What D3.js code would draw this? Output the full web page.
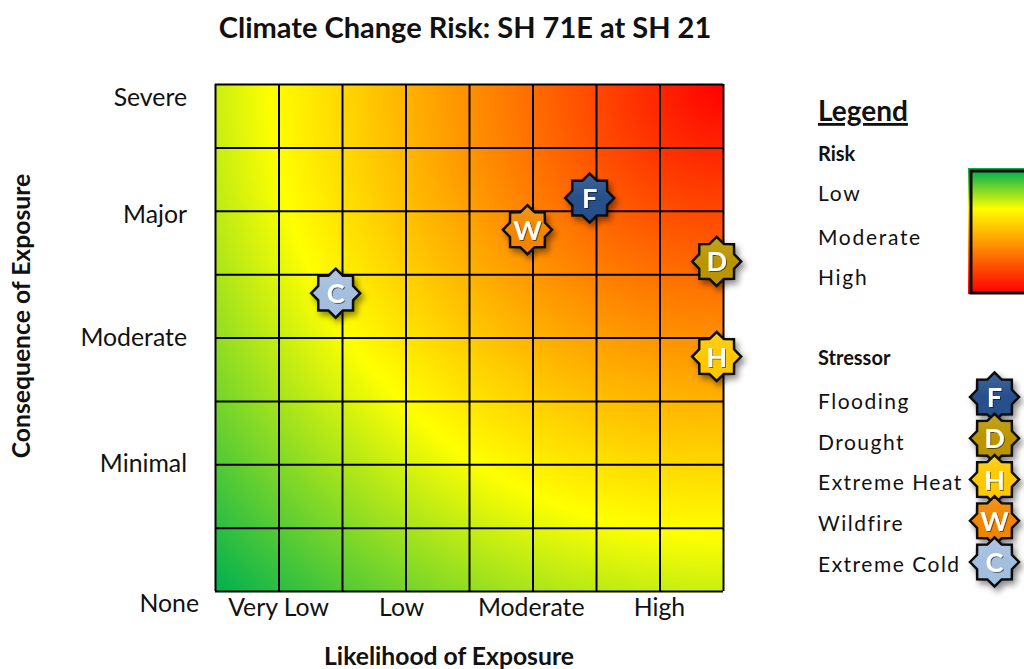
<!DOCTYPE html>
<html>
<head>
<meta charset="utf-8">
<script src="https://cdn.jsdelivr.net/npm/d3@7"></script>
<style>
  html, body { margin: 0; background: #fff; overflow: hidden; }
  text { font-family: Lato, "Open Sans", sans-serif; fill: #111; }
</style>
</head>
<body>
<script>
var likelihoodLabels = ["Very Low", "Low", "Moderate", "High"];
var likelihoodTicks = [0.5, 1.47, 2.49, 3.5];
var consequenceLabels = ["None", "Minimal", "Moderate", "Major", "Severe"];
var consequenceTicks = [-0.1, 1, 2, 2.97, 3.89];
var gridLines = [0, 0.5, 1, 1.5, 2, 2.5, 3, 3.5, 4];

var stressorNames = ["Flooding", "Drought", "Extreme Heat", "Wildfire", "Extreme Cold"];
var stressorLetters = ["F", "D", "H", "W", "C"];
var stressorColors = ["#264f8c", "#bb9500", "#ffc800", "#f08600", "#a3bede"];
var stressorLikelihood = [2.95, 3.95, 3.95, 2.46, 0.95];
var stressorConsequence = [3.1, 2.6, 1.85, 2.85, 2.35];

var riskLabels = ["Low", "Moderate", "High"];

var margin = { top: 84, left: 215 },
    width = 508,
    height = 507;

var svg = d3.select("body")
    .append("svg")
    .attr("width", 1024)
    .attr("height", 669);

var defs = svg.append("defs");

// the plot colours fan out from the top right corner
var plotGrad = defs.append("radialGradient")
    .attr("id", "plotGrad")
    .attr("gradientUnits", "userSpaceOnUse")
    .attr("cx", width).attr("cy", 0).attr("r", 717);
plotGrad.append("stop").attr("offset", "0").attr("stop-color", "#ff0000");
plotGrad.append("stop").attr("offset", "0.63").attr("stop-color", "#ffff00");
plotGrad.append("stop").attr("offset", "1").attr("stop-color", "#00b050");

var legendGrad = defs.append("linearGradient")
    .attr("id", "legendGrad")
    .attr("x1", 0).attr("y1", 0).attr("x2", 0).attr("y2", 1);
legendGrad.append("stop").attr("offset", "0").attr("stop-color", "#00b050");
legendGrad.append("stop").attr("offset", "0.31").attr("stop-color", "#ffff00");
legendGrad.append("stop").attr("offset", "1").attr("stop-color", "#ff0000");

var shadow = defs.append("filter").attr("id", "starShadow")
    .attr("x", "-30%").attr("y", "-30%").attr("width", "170%").attr("height", "170%");
shadow.append("feDropShadow")
    .attr("dx", 3).attr("dy", 4).attr("stdDeviation", 3)
    .attr("flood-color", "#000").attr("flood-opacity", 0.45);

var textShadow = defs.append("filter").attr("id", "letterShadow")
    .attr("x", "-30%").attr("y", "-30%").attr("width", "170%").attr("height", "170%");
textShadow.append("feDropShadow")
    .attr("dx", 1).attr("dy", 1).attr("stdDeviation", 0.7)
    .attr("flood-color", "#000").attr("flood-opacity", 0.5);

var sheen = defs.append("linearGradient")
    .attr("id", "starSheen")
    .attr("x1", 0).attr("y1", 0).attr("x2", 0).attr("y2", 1);
sheen.append("stop").attr("offset", "0").attr("stop-color", "#fff").attr("stop-opacity", 0.12);
sheen.append("stop").attr("offset", "0.5").attr("stop-color", "#fff").attr("stop-opacity", 0);

var g = svg.append("g")
    .attr("transform", "translate(" + margin.left + "," + margin.top + ")");

var x = d3.scaleLinear().domain([0, 4]).range([0, width]);
var y = d3.scaleLinear().domain([0, 4]).range([height, 0]);

g.append("rect")
    .attr("width", width)
    .attr("height", height)
    .attr("fill", "url(#plotGrad)");

// Grid
g.append("g")
    .attr("class", "grid")
    .attr("transform", "translate(0," + height + ")")
    .call(d3.axisBottom(x).tickValues(gridLines).tickSize(-height).tickFormat(""));
g.append("g")
    .attr("class", "grid")
    .call(d3.axisLeft(y).tickValues(gridLines).tickSize(-width).tickFormat(""));
g.selectAll(".grid .domain").remove();
g.selectAll(".grid line")
    .attr("stroke", "#000")
    .attr("stroke-width", 2);

// Axis labels
g.selectAll(".xlab")
    .data(likelihoodLabels)
    .enter()
    .append("text")
    .attr("x", function (d, i) { return x(likelihoodTicks[i]); })
    .attr("y", height + 25)
    .attr("text-anchor", "middle")
    .attr("font-size", 24.8)
    .text(function (d) { return d; });

g.selectAll(".ylab")
    .data(consequenceLabels)
    .enter()
    .append("text")
    .attr("x", function (d) { return d == "None" ? -16 : -28; })
    .attr("y", function (d, i) { return y(consequenceTicks[i]) + 8; })
    .attr("text-anchor", "end")
    .attr("font-size", 24.8)
    .text(function (d) { return d; });

svg.append("text")
    .attr("x", 465).attr("y", 38)
    .attr("text-anchor", "middle")
    .attr("font-size", 29)
    .attr("font-weight", "bold")
    .text("Climate Change Risk: SH 71E at SH 21");

svg.append("text")
    .attr("x", 449).attr("y", 665)
    .attr("text-anchor", "middle")
    .attr("font-size", 24.7)
    .attr("font-weight", "bold")
    .text("Likelihood of Exposure");

svg.append("text")
    .attr("transform", "translate(30,316)rotate(-90)")
    .attr("text-anchor", "middle")
    .attr("font-size", 24.7)
    .attr("font-weight", "bold")
    .text("Consequence of Exposure");

// 8 pointed star
var starPoints = d3.range(16).map(function (i) {
    return [i * Math.PI / 8, i % 2 ? 0.77 : 1];
});
function starPath(r) {
    return d3.lineRadial()
        .angle(function (d) { return d[0]; })
        .radius(function (d) { return d[1] * r; })
        .curve(d3.curveLinearClosed)(starPoints);
}

function drawStar(sel, r, color, letter) {
    sel.append("path")
        .attr("d", starPath(r))
        .attr("fill", color)
        .attr("stroke", "#0a0a0a")
        .attr("stroke-width", 2.5)
        .attr("stroke-linejoin", "miter")
        .attr("filter", "url(#starShadow)");
    sel.append("path")
        .attr("d", starPath(r - 1.5))
        .attr("fill", "url(#starSheen)");
    sel.append("text")
        .attr("text-anchor", "middle")
        .attr("y", 10)
        .attr("font-size", 27)
        .attr("font-weight", "bold")
        .attr("filter", "url(#letterShadow)")
        .style("fill", "#fff")
        .text(letter);
}

stressorLetters.forEach(function (letter, i) {
    g.append("g")
        .attr("transform", "translate(" + x(stressorLikelihood[i]) + "," + y(stressorConsequence[i]) + ")")
        .call(drawStar, 24.5, stressorColors[i], letter);
});

// Legend
var legend = svg.append("g");

legend.append("text")
    .attr("x", 818).attr("y", 121)
    .attr("font-size", 28)
    .attr("font-weight", "bold")
    .attr("text-decoration", "underline")
    .text("Legend");

legend.append("text")
    .attr("x", 818).attr("y", 161)
    .attr("font-size", 20)
    .attr("font-weight", "bold")
    .text("Risk");

var riskY = d3.scalePoint().domain(riskLabels).range([194, 278]);
legend.selectAll(".risk")
    .data(riskLabels)
    .enter()
    .append("text")
    .attr("x", 818)
    .attr("y", function (d) { return riskY(d) + (d == "Moderate" ? 9 : 7); })
    .attr("font-size", 21)
    .attr("letter-spacing", 1.7)
    .text(function (d) { return d; });

legend.append("rect")
    .attr("x", 968).attr("y", 168)
    .attr("width", 60).attr("height", 126)
    .attr("fill", "url(#legendGrad)");
legend.append("rect")
    .attr("x", 971).attr("y", 171)
    .attr("width", 60).attr("height", 122)
    .attr("fill", "url(#legendGrad)")
    .attr("stroke", "#0a0a0a")
    .attr("stroke-width", 3);

legend.append("text")
    .attr("x", 818).attr("y", 365)
    .attr("font-size", 20)
    .attr("font-weight", "bold")
    .text("Stressor");

var rowY = d3.scalePoint().domain(stressorNames).range([397, 562]);
var rowTextY = d3.scalePoint().domain(stressorNames).range([398, 560.5]);
stressorNames.forEach(function (name, i) {
    legend.append("text")
        .attr("x", 818)
        .attr("y", rowTextY(name) + 11)
        .attr("font-size", 21)
        .attr("letter-spacing", 1.5)
        .text(name);
    legend.append("g")
        .attr("transform", "translate(994.5," + rowY(name) + ")")
        .call(drawStar, 24.5, stressorColors[i], stressorLetters[i]);
});
</script>
</body>
</html>
